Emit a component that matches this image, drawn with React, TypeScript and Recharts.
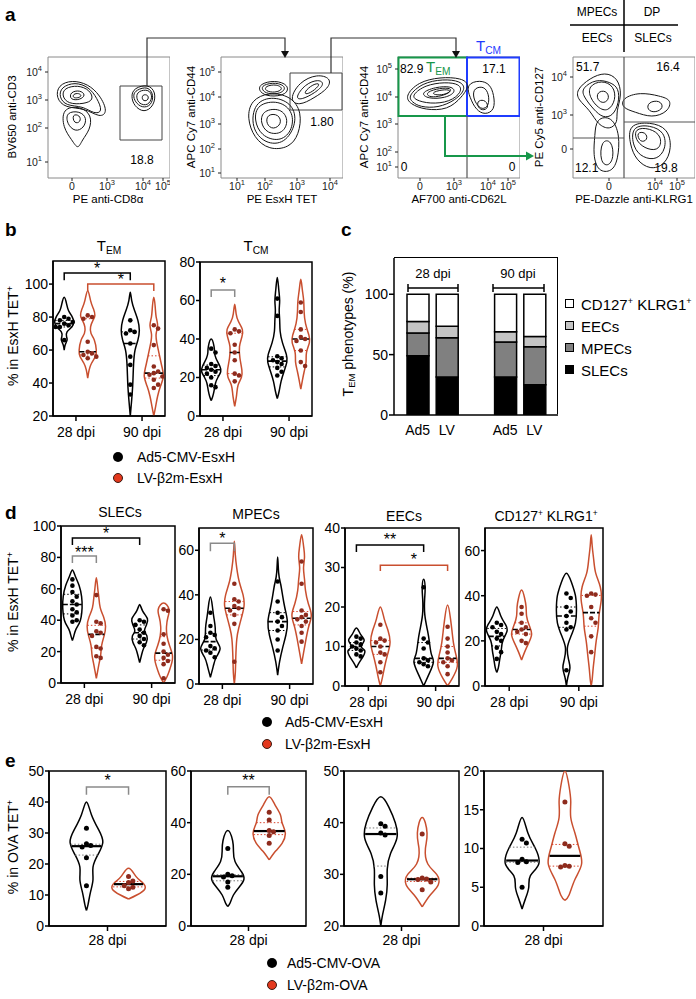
import React from 'react'
import {
  ComposedChart, Line, Scatter, XAxis, YAxis, ReferenceLine, ReferenceArea,
  ReferenceDot, BarChart, Bar,
} from 'recharts'

const FONT = '"Liberation Sans", Arial, Helvetica, sans-serif'
const RED = '#c94f2f'
const RED_DOT = '#8e2b1d'
const GREEN = '#17974a'
const BLUE = '#1f3cff'

// ---- panel a: flow contour rings (axis units of each plot, 0-122 x 0-121) ----
const cd8Rings = [
  [[10, 93], [24, 98], [40, 94], [52, 83], [60, 66], [52, 60], [37, 70], [17, 70], [8, 80]],
  [[13, 91], [27, 96], [41, 91], [49, 80], [55, 66], [46, 64], [35, 72], [18, 72], [11, 81]],
  [[16, 90], [30, 93], [42, 88], [46, 78], [36, 74], [20, 74], [14, 82]],
  [[22, 86], [32, 88], [38, 83], [32, 78], [22, 78]],
  [[25, 84], [31, 85], [34, 82], [30, 80], [25, 80]],
  [[14, 70], [32, 72], [44, 63], [42, 48], [34, 38], [30, 28], [24, 38], [15, 50]],
  [[18, 66], [32, 67], [39, 60], [36, 50], [27, 46], [19, 54]],
  [[24, 64], [32, 63], [33, 56], [26, 54]],
  [[86, 90], [100, 94], [108, 86], [106, 72], [96, 65], [86, 72], [83, 82]],
  [[88, 88], [100, 92], [106, 83], [103, 72], [94, 70], [87, 76], [85, 83]],
  [[90, 87], [101, 89], [105, 81], [100, 72], [91, 74], [88, 81]],
  [[94, 84], [101, 83], [100, 77], [94, 77]],
]
const tetRings = [
  [[30, 78], [48, 86], [70, 82], [81, 66], [78, 43], [68, 30], [48, 28], [33, 40], [26, 60]],
  [[33, 76], [53, 82], [72, 74], [76, 55], [64, 34], [44, 34], [30, 50]],
  [[36, 74], [58, 78], [73, 66], [71, 46], [58, 36], [40, 42], [33, 58]],
  [[42, 68], [60, 70], [68, 58], [62, 44], [46, 44], [39, 56]],
  [[46, 64], [58, 64], [61, 54], [52, 48], [45, 54]],
  [[38, 94], [54, 98], [68, 93], [66, 83], [48, 81], [38, 86]],
  [[41, 93], [55, 96], [66, 91], [60, 84], [46, 84], [41, 88]],
  [[44, 92], [56, 94], [63, 89], [54, 85], [44, 87]],
  [[68, 78], [78, 96], [96, 104], [110, 100], [108, 90], [93, 80], [78, 72]],
  [[74, 80], [84, 94], [98, 99], [104, 94], [94, 85], [80, 78]],
  [[83, 86], [92, 94], [100, 95], [94, 88], [85, 83]],
]
const cd62Rings = [
  [[7, 82], [20, 96], [42, 101], [64, 100], [72, 93], [64, 81], [50, 68], [27, 68], [12, 74]],
  [[10, 82], [24, 95], [45, 99], [63, 97], [68, 89], [58, 78], [40, 70], [22, 71], [14, 76]],
  [[14, 83], [27, 93], [47, 96], [62, 94], [64, 86], [52, 76], [32, 74], [17, 78]],
  [[22, 85], [37, 91], [54, 92], [58, 86], [48, 80], [30, 79]],
  [[28, 86], [42, 90], [54, 90], [52, 85], [40, 81], [30, 81]],
  [[34, 86], [48, 89], [54, 87], [46, 83], [36, 83]],
  [[68, 94], [82, 98], [92, 94], [96, 83], [97, 68], [87, 63], [78, 68], [72, 80]],
  [[76, 90], [86, 92], [91, 84], [91, 72], [84, 68], [78, 74], [75, 82]],
  [[80, 78], [88, 78], [91, 70], [84, 67], [79, 72]],
]
const klrgRings = [
  [[3, 88], [17, 100], [32, 106], [45, 100], [49, 83], [43, 66], [45, 56], [37, 48], [25, 53], [17, 68], [5, 78]],
  [[9, 90], [23, 99], [37, 96], [46, 90], [46, 75], [40, 62], [30, 60], [21, 68], [10, 82]],
  [[15, 92], [29, 98], [41, 92], [43, 78], [35, 66], [25, 70], [17, 80]],
  [[24, 86], [33, 88], [37, 80], [31, 74], [24, 78]],
  [[23, 60], [39, 62], [47, 43], [45, 18], [39, 6], [25, 6], [20, 23], [22, 43]],
  [[28, 38], [39, 38], [41, 20], [35, 11], [27, 16]],
  [[49, 80], [67, 86], [87, 82], [99, 78], [95, 66], [79, 60], [62, 66], [49, 70]],
  [[75, 76], [87, 78], [91, 70], [82, 65], [74, 68]],
  [[55, 54], [77, 56], [95, 50], [99, 30], [92, 13], [77, 8], [63, 18], [57, 33]],
  [[58, 52], [77, 53], [92, 46], [93, 29], [84, 18], [70, 20], [60, 30]],
  [[61, 50], [77, 50], [89, 42], [87, 28], [75, 28], [63, 36]],
  [[63, 46], [73, 46], [75, 38], [67, 35]],
]

// tick positions / labels of the flow axes
const cd8XTicks = [[24, '0'], [59, '10^3'], [95, '10^4'], [115, '10^5']]
const cd8YTicks = [[16, '10^1'], [50, '10^2'], [78, '10^3'], [106, '10^4']]
const tetXTicks = [[16, '10^1'], [44, '10^2'], [76, '10^3'], [109, '10^4']]
const tetYTicks = [[5, '10^1'], [29, '10^2'], [54, '10^3'], [81, '10^4'], [106, '10^5']]
const cd62XTicks = [[22, '0'], [56, '10^3'], [90, '10^4'], [110, '10^5']]
const cd62YTicks = [[11, '10^1'], [26, '10^2'], [54, '10^3'], [81, '10^4'], [109, '10^5']]
const klrgXTicks = [[36, '0'], [82, '10^4'], [104, '10^5']]
const klrgYTicks = [[29, '0'], [63, '10^3'], [101, '10^4']]

// ---- panel b ----
const temShapes = [
  [[60, 0], [63, 0.1], [66, 0.3], [68, 0.25], [71, 0.3], [74, 0.8], [77, 1.0], [80, 0.85], [84, 0.45], [88, 0.25], [92, 0]],
  [[43, 0], [48, 0.15], [52, 0.4], [56, 0.8], [60, 0.9], [66, 0.7], [70, 0.35], [74, 0.3], [78, 0.55], [81, 0.75], [85, 0.6], [90, 0.3], [96, 0]],
  [[20, 0], [30, 0.15], [38, 0.25], [45, 0.3], [52, 0.35], [60, 0.5], [66, 0.8], [72, 0.95], [78, 0.8], [84, 0.45], [90, 0.15], [95, 0]],
  [[20, 0], [26, 0.2], [32, 0.4], [38, 0.7], [44, 1.0], [50, 0.85], [58, 0.55], [65, 0.3], [70, 0.25], [75, 0.4], [80, 0.25], [86, 0.15], [92, 0]],
]
const temDots = [
  [80, 79, 78, 77, 76, 75, 74, 74, 66],
  [81, 80, 79, 65, 59, 58, 57, 56, 55],
  [78, 72, 71, 70, 64, 56, 51, 39, 33],
  [75, 73, 63, 50, 47, 46, 45, 44, 42, 39, 37],
]
const tcmShapes = [
  [[8, 0], [10, 0.15], [13, 0.3], [17, 0.45], [20, 0.7], [23, 1.0], [26, 0.9], [30, 0.5], [33, 0.35], [36, 0.3], [40, 0]],
  [[5, 0], [11, 0.2], [16, 0.35], [20, 0.7], [24, 0.75], [30, 0.55], [36, 0.5], [41, 0.75], [45, 0.8], [49, 0.4], [53, 0.15], [58, 0]],
  [[9, 0], [13, 0.2], [18, 0.4], [23, 0.7], [28, 1.0], [32, 0.95], [38, 0.55], [44, 0.3], [50, 0.25], [55, 0.2], [60, 0.25], [66, 0.15], [72, 0]],
  [[14, 0], [18, 0.15], [23, 0.35], [28, 0.55], [33, 0.6], [38, 0.9], [42, 0.85], [48, 0.5], [54, 0.35], [60, 0.3], [66, 0.15], [71, 0]],
]
const tcmDots = [
  [35, 33, 27, 26, 25, 24, 23, 22, 20, 16, 15],
  [45, 44, 43, 37, 33, 29, 22, 21, 18],
  [61, 52, 31, 30, 29, 28, 27, 25, 23, 21],
  [59, 54, 45, 41, 40, 39, 34, 28, 26],
]

// ---- panel c ----
const phenoCats = ['a28', 'l28', 'gap', 'a90', 'l90']
const phenoLabels = ['Ad5', 'LV', '', 'Ad5', 'LV']
const slecPct = [49, 31.5, 31.5, 25]
const mpecPct = [19, 32.5, 29, 31.5]
const eecPct = [9.5, 9.5, 8.5, 8.5]
const dpPct = [22.5, 26.5, 31, 35]

// ---- panel d ----
const slecShapes = [
  [[27, 0], [30, 0.15], [34, 0.35], [38, 0.7], [42, 0.9], [48, 1.0], [55, 0.95], [62, 0.7], [68, 0.3], [72, 0]],
  [[3, 0], [8, 0.15], [13, 0.3], [18, 0.45], [24, 0.55], [30, 0.8], [36, 0.95], [42, 0.75], [48, 0.4], [55, 0.25], [60, 0.15], [67, 0]],
  [[13, 0], [18, 0.2], [22, 0.4], [26, 0.7], [30, 0.75], [33, 0.5], [37, 0.7], [41, 0.8], [46, 0.3], [50, 0]],
  [[0, 0], [4, 0.35], [8, 0.6], [13, 0.85], [18, 0.9], [24, 0.6], [30, 0.35], [36, 0.3], [42, 0.45], [47, 0.55], [51, 0]],
]
const slecDots = [
  [66, 62, 58, 55, 52, 50, 47, 45, 43, 40, 39],
  [56, 39, 38, 33, 32, 30, 23, 22, 17, 16],
  [40, 39, 37, 34, 32, 30, 28, 26, 24],
  [47, 46, 31, 25, 20, 18, 16, 14, 12, 3],
]
const mpecShapes = [
  [[3, 0], [8, 0.3], [12, 0.6], [16, 1.0], [20, 0.6], [25, 0.5], [30, 0.35], [35, 0.2], [39, 0]],
  [[0, 0], [5, 0.1], [12, 0.15], [20, 0.25], [25, 0.45], [30, 0.75], [35, 1.0], [40, 0.9], [46, 0.5], [52, 0.25], [58, 0.1], [64, 0]],
  [[4, 0], [10, 0.2], [16, 0.5], [22, 0.85], [28, 1.0], [34, 0.75], [40, 0.5], [45, 0.3], [50, 0.1], [57, 0]],
  [[9, 0], [14, 0.2], [20, 0.45], [26, 0.75], [31, 1.0], [36, 0.7], [42, 0.4], [47, 0.3], [52, 0.2], [57, 0.3], [62, 0.2], [67, 0]],
]
const mpecDots = [
  [32, 26, 23, 22, 21, 17, 16, 15, 14, 12],
  [45, 38, 37, 35, 34, 33, 31, 27, 10],
  [46, 37, 32, 30, 28, 26, 24, 20, 15],
  [55, 45, 33, 31, 30, 29, 28, 26, 23, 19],
]
const eecShapes = [
  [[4.6, 0], [6, 0.3], [7.5, 0.7], [9, 0.85], [10, 0.5], [11.5, 0.8], [13, 0.45], [14.7, 0]],
  [[0, 0], [2, 0.2], [5, 0.45], [8, 0.75], [11, 1.0], [14, 0.8], [17, 0.4], [20, 0]],
  [[0, 0], [3, 0.55], [6, 1.0], [8, 0.8], [11, 0.6], [14, 0.4], [18, 0.12], [22, 0.1], [25, 0.15], [27, 0]],
  [[0, 0], [2, 0.5], [5, 1.0], [8, 0.85], [11, 0.6], [14, 0.45], [17, 0.3], [20.5, 0]],
]
const eecDots = [
  [12.5, 12, 11, 10.5, 10, 9.5, 9, 8, 7.5],
  [15.5, 12, 11.5, 11, 10, 8.5, 8, 6, 3.5],
  [25, 12, 11, 9.5, 7, 6.5, 6, 5.5, 5],
  [15, 12, 10, 8.5, 7, 6.5, 6, 5, 3],
]
const dpShapes = [
  [[6, 0], [8, 0.15], [12, 0.3], [16, 0.45], [20, 0.6], [24, 1.0], [27, 0.9], [31, 0.4], [35, 0]],
  [[11.5, 0], [15, 0.3], [19, 0.7], [23, 1.0], [27, 0.75], [31, 0.5], [35, 0.45], [39, 0.3], [42.5, 0]],
  [[0, 0], [4, 0.15], [8, 0.35], [12, 0.2], [17, 0.1], [22, 0.45], [28, 0.9], [34, 1.0], [40, 0.9], [46, 0.5], [50, 0]],
  [[0, 0], [3, 0.1], [8, 0.2], [14, 0.35], [20, 0.5], [26, 0.7], [32, 0.8], [38, 1.0], [44, 0.9], [50, 0.45], [56, 0.25], [62, 0.1], [67, 0]],
]
const dpDots = [
  [28, 27, 26, 24, 23, 21, 20, 17, 15, 12],
  [35, 32, 28, 26, 25, 24, 23, 20, 19],
  [41, 39, 35, 33, 31, 28, 26, 25, 7],
  [41, 40.5, 40, 35, 30, 28, 22, 15],
]

// ---- panel e (OVA, 28 dpi only) ----
const ovaSlecShapes = [
  [[5, 0], [7, 0.1], [11, 0.25], [15, 0.4], [19, 0.4], [23, 0.7], [27, 1.0], [31, 0.75], [36, 0.3], [40, 0]],
  [[8.7, 0], [10, 0.5], [12, 1.0], [14, 0.85], [16, 0.45], [18.6, 0]],
]
const ovaSlecDots = [[31.5, 26.5, 26, 25.5, 22, 13], [16, 14.5, 14, 13, 12.5, 12]]
const ovaMpecShapes = [
  [[7.5, 0], [9, 0.15], [12, 0.35], [15, 0.7], [18, 1.0], [21, 0.85], [25, 0.45], [29, 0.35], [33, 0.3], [37, 0]],
  [[25.6, 0], [29, 0.4], [32, 0.8], [36, 1.0], [40, 0.8], [43, 0.7], [47, 0.35], [50, 0]],
]
const ovaMpecDots = [[30, 20, 19.5, 19, 17, 15], [44, 41, 37, 36.5, 35, 32]]
const ovaEecShapes = [
  [[20, 0], [22, 0.1], [25, 0.3], [28, 0.4], [31, 0.4], [34, 0.6], [37, 1.0], [40, 0.9], [43, 0.5], [45, 0]],
  [[23.7, 0], [26, 0.5], [28, 1.0], [30, 0.9], [32, 0.35], [35, 0.2], [38, 0.3], [41, 0]],
]
const ovaEecDots = [[39.8, 39.3, 38, 37.6, 29.6, 26.4], [37.8, 29.3, 29.1, 29, 28.5, 27]]
const ovaDpShapes = [
  [[2.2, 0], [3.5, 0.2], [5, 0.4], [6.5, 0.5], [8, 1.0], [10, 0.8], [12, 0.35], [14, 0]],
  [[3.3, 0], [4, 0.25], [6, 0.6], [8, 1.0], [10, 0.85], [12, 0.6], [14, 0.35], [16, 0.35], [18, 0.25], [20, 0]],
]
const ovaDpDots = [[11.2, 10.7, 8.6, 8.3, 8.2, 5], [16, 10.6, 10.3, 7.8, 7.7, 7.6]]

const POS4 = [0.1, 0.31, 0.69, 0.9]
const POS2 = [0.32, 0.68]
const DPI_TICKS = [0.205, 0.795]

// ---------- helpers ----------
function outline(prof: number[][], c: number, half: number) {
  const s = [...prof].sort((a, b) => a[0] - b[0])
  const left = s.map(([y, w]) => ({ x: c - w * half, y }))
  const right = s.slice(0, -1).reverse().map(([y, w]) => ({ x: c + w * half, y }))
  return [...left, ...right]
}
function widthAt(prof: number[][], y: number) {
  const s = [...prof].sort((a, b) => a[0] - b[0])
  for (let i = 0; i < s.length - 1; i++) {
    if (y >= s[i][0] && y <= s[i + 1][0]) {
      const t = (y - s[i][0]) / (s[i + 1][0] - s[i][0] || 1)
      return s[i][1] + (s[i + 1][1] - s[i][1]) * t
    }
  }
  return 0
}
function quantile(sorted: number[], p: number) {
  const idx = (sorted.length - 1) * p
  const lo = Math.floor(idx), hi = Math.ceil(idx)
  return sorted[lo] + (sorted[hi] - sorted[lo]) * (idx - lo)
}
function swarm(vals: number[], c: number, dx: number, thr: number) {
  const placed: { y: number; k: number }[] = []
  return [...vals].sort((a, b) => b - a).map((v) => {
    let k = 0
    for (const cand of [0, 1, -1, 2, -2, 3, -3]) {
      if (!placed.some((q) => Math.abs(q.y - v) < thr && q.k === cand)) { k = cand; break }
    }
    placed.push({ y: v, k })
    return { x: c + k * dx, y: v }
  })
}

function Txt({ x, y, children, size = 14, anchor = 'middle', rot = 0, color = '#000', weight = 400 }: any) {
  const tx = anchor === 'middle' ? '-50%' : anchor === 'end' ? '-100%' : '0'
  return (
    <div style={{
      position: 'absolute', left: x, top: y, transform: `translate(${tx},-50%) rotate(${rot}deg)`,
      fontSize: size, color, fontWeight: weight, whiteSpace: 'nowrap', lineHeight: 1, fontFamily: FONT,
    }}>{children}</div>
  )
}

function PowLabel({ x, y, lab, anchor }: any) {
  const m = /^10\^(\d)$/.exec(lab)
  return (
    <text x={x} y={y} textAnchor={anchor} fontSize={10.5} fill="#222" fontFamily={FONT}>
      {m ? <>10<tspan dy={-5} fontSize={7.5}>{m[1]}</tspan></> : lab}
    </text>
  )
}

function FlowPlot({ box, xt, yt, rings, areas = [], segs = [] }: any) {
  const [bx, by] = box
  const W = 122, H = 121, ML = 30, MB = 20, MT = 8
  const lab = (arr: any[], v: number) => (arr.find((t) => t[0] === v) || [0, ''])[1]
  return (
    <div style={{ position: 'absolute', left: bx - ML, top: by - MT }}>
      <ComposedChart width={W + ML} height={H + MB + MT} margin={{ top: MT, right: 0, bottom: 0, left: 0 }}>
        <XAxis type="number" dataKey="x" domain={[0, W]} ticks={xt.map((t: any) => t[0])} interval={0}
          height={MB} axisLine={false} tickSize={3} tickLine={{ stroke: '#222' }} allowDataOverflow
          tick={(pp: any) => <PowLabel x={pp.x} y={pp.y + 7} lab={lab(xt, pp.payload.value)} anchor="middle" />} />
        <YAxis type="number" dataKey="y" domain={[0, H]} ticks={yt.map((t: any) => t[0])} interval={0}
          width={ML} axisLine={false} tickSize={3} tickLine={{ stroke: '#222' }} allowDataOverflow
          tick={(pp: any) => <PowLabel x={pp.x - 1} y={pp.y + 4} lab={lab(yt, pp.payload.value)} anchor="end" />} />
        <ReferenceArea x1={0} x2={W} y1={0} y2={H} fill="none" stroke="#8a8a8a" strokeWidth={1} ifOverflow="visible" />
        {rings.map((r: number[][], i: number) => (
          <Line key={'r' + i} data={r.map(([x, y]) => ({ x, y }))} dataKey="y" type="basisClosed"
            stroke="#151515" strokeWidth={1} dot={false} activeDot={false} isAnimationActive={false} />
        ))}
        {areas.map((a: any, i: number) => (
          <ReferenceArea key={'a' + i} x1={a.x1} x2={a.x2} y1={a.y1} y2={a.y2} fill="none"
            stroke={a.color} strokeWidth={a.w} ifOverflow="visible" />
        ))}
        {segs.map((s: any, i: number) => (
          <ReferenceLine key={'s' + i} segment={[{ x: s[0], y: s[1] }, { x: s[2], y: s[3] }]}
            stroke="#555" strokeWidth={1.2} ifOverflow="visible" />
        ))}
      </ComposedChart>
    </div>
  )
}

function ViolinPanel({ box, domain, yTicks, shapes, dots, pos, half, xTicks, xLabels, brackets = [], ova = false }: any) {
  const [bx, by, bw, bh] = box
  const ML = 46, MT = 10, MR = 2, MB = 32
  const thr = (5 * (domain[1] - domain[0])) / bh
  const dx = 4.3 / bw
  const stats: any[] = []
  dots.forEach((d: number[], i: number) => {
    const s = [...d].sort((a, b) => a - b)
    const lv = i % 2 === 1
    const lines = [
      { v: quantile(s, 0.25), kind: 'q' }, { v: quantile(s, 0.75), kind: 'q' }, { v: quantile(s, 0.5), kind: 'm' },
    ]
    lines.forEach((l, j) => {
      const hw = widthAt(shapes[i], l.v) * half
      const med = l.kind === 'm'
      stats.push(
        <ReferenceLine key={`st${i}-${j}`} segment={[{ x: pos[i] - hw, y: l.v }, { x: pos[i] + hw, y: l.v }]}
          stroke={med ? '#000' : lv ? '#d8432c' : ova ? '#777' : '#000'}
          strokeWidth={med ? (ova ? 2.2 : 1.6) : 1}
          strokeDasharray={med ? (ova ? undefined : '5 2') : '1.5 2'} ifOverflow="visible" />,
      )
    })
  })
  return (
    <div style={{ position: 'absolute', left: bx - ML, top: by - MT }}>
      <ComposedChart width={bw + ML + MR} height={bh + MT + MB} margin={{ top: MT, right: MR, bottom: 0, left: 0 }}>
        <XAxis type="number" dataKey="x" domain={[0, 1]} ticks={xTicks} interval={0} allowDataOverflow
          tickFormatter={(v: number) => xLabels[xTicks.indexOf(v)] ?? ''} height={MB}
          axisLine={{ stroke: '#000', strokeWidth: 1.5 }} tickLine={{ stroke: '#000', strokeWidth: 1.5 }}
          tickSize={5} tickMargin={ova ? 4 : 6} tick={{ fill: '#000', fontSize: 14 }} />
        <YAxis type="number" dataKey="y" domain={domain} ticks={yTicks} interval={0} allowDataOverflow width={ML}
          axisLine={{ stroke: '#000', strokeWidth: 1.5 }} tickLine={{ stroke: '#000', strokeWidth: 1.5 }}
          tickSize={4} tickMargin={1} tick={{ fill: '#000', fontSize: 14 }} />
        <ReferenceArea x1={0} x2={1} y1={domain[0]} y2={domain[1]} fill="none" stroke="#000" strokeWidth={1.5} ifOverflow="visible" />
        {shapes.map((s: number[][], i: number) => (
          <Line key={'v' + i} data={outline(s, pos[i], half)} dataKey="y" type="natural"
            stroke={i % 2 ? RED : '#000'} strokeWidth={1.5} dot={false} activeDot={false} isAnimationActive={false} />
        ))}
        {stats}
        {dots.map((d: number[], i: number) => (
          <Scatter key={'d' + i} data={swarm(d, pos[i], dx, thr)} isAnimationActive={false}
            shape={(pp: any) => <circle cx={pp.cx} cy={pp.cy} r={ova ? 2.5 : 2.3} fill={i % 2 ? RED_DOT : '#000'} />} />
        ))}
        {brackets.map((b: any, i: number) => (
          <Line key={'b' + i} data={[{ x: pos[b.a], y: b.tip }, { x: pos[b.a], y: b.y }, { x: pos[b.b], y: b.y }, { x: pos[b.b], y: b.tip }]}
            dataKey="y" type="linear" stroke={b.color} strokeWidth={1.5} dot={false} activeDot={false} isAnimationActive={false} />
        ))}
        {brackets.map((b: any, i: number) => (
          <ReferenceDot key={'s' + i} x={(pos[b.a] + pos[b.b]) / 2} y={b.sy} r={0} ifOverflow="visible"
            shape={(pp: any) => <text x={pp.cx} y={pp.cy + 8} textAnchor="middle" fontSize={16} fill="#000">{b.star}</text>} />
        ))}
      </ComposedChart>
    </div>
  )
}

function PhenoChart() {
  const rows: any[] = []
  let k = 0
  phenoCats.forEach((c) => {
    if (c === 'gap') { rows.push({ key: c }); return }
    rows.push({ key: c, slec: slecPct[k], mpec: mpecPct[k], eec: eecPct[k], dp: dpPct[k] })
    k++
  })
  const ML = 40, MB = 26
  const bars = [['slec', '#000'], ['mpec', '#808080'], ['eec', '#c4c4c4'], ['dp', '#fff']]
  return (
    <div style={{ position: 'absolute', left: 394 - ML, top: 258 }}>
      <BarChart width={164 + ML + 2} height={157 + MB} data={rows} margin={{ top: 0, right: 2, bottom: 0, left: 0 }} barSize={22}>
        <XAxis dataKey="key" type="category" padding={{ left: 9, right: 9 }} height={MB} tickLine={false}
          tickFormatter={(v: string) => phenoLabels[phenoCats.indexOf(v)]} interval={0}
          axisLine={{ stroke: '#000', strokeWidth: 1.5 }} tick={{ fill: '#000', fontSize: 14 }} tickMargin={4} />
        <YAxis type="number" domain={[0, 130]} ticks={[0, 50, 100]} width={ML} allowDataOverflow
          axisLine={{ stroke: '#000', strokeWidth: 1.5 }} tickLine={{ stroke: '#000', strokeWidth: 1.5 }}
          tickSize={5} tickMargin={1} tick={{ fill: '#000', fontSize: 14 }} />
        {bars.map(([key, fill]) => (
          <Bar key={key} dataKey={key} stackId="p" fill={fill} stroke="#000" strokeWidth={1.5} isAnimationActive={false} />
        ))}
      </BarChart>
    </div>
  )
}

const Sub = ({ t, s }: any) => <span>{t}<sub style={{ fontSize: '0.68em', verticalAlign: '-0.25em' }}>{s}</sub></span>
const LegendDot = ({ x, y, red }: any) => (
  <div style={{
    position: 'absolute', left: x - 5, top: y - 5, width: 10, height: 10, borderRadius: 5,
    background: red ? '#e3381d' : '#000', boxSizing: 'border-box', border: red ? '1px solid #3a1a12' : 'none',
  }} />
)

export default function App() {
  const HB = 0.085
  const HE = 0.14
  return (
    <div style={{ position: 'relative', width: 696, height: 999, background: '#fff', fontFamily: FONT, overflow: 'hidden' }}>
      <style>{'body{margin:0}'}</style>

      {/* ---- panel a ---- */}
      <FlowPlot box={[48, 57]} xt={cd8XTicks} yt={cd8YTicks} rings={cd8Rings}
        areas={[{ x1: 72, x2: 114, y1: 38, y2: 92, color: '#444', w: 1 }]} />
      <FlowPlot box={[221, 57]} xt={tetXTicks} yt={tetYTicks} rings={tetRings}
        areas={[{ x1: 69, x2: 121, y1: 68, y2: 105, color: '#444', w: 1 }]} />
      <FlowPlot box={[398, 57]} xt={cd62XTicks} yt={cd62YTicks} rings={cd62Rings}
        areas={[{ x1: 0.5, x2: 69, y1: 62, y2: 120.5, color: GREEN, w: 2 }, { x1: 69, x2: 121.5, y1: 62, y2: 120.5, color: BLUE, w: 2 }]}
        segs={[[69, 0, 69, 62]]} />
      <FlowPlot box={[573, 57]} xt={klrgXTicks} yt={klrgYTicks} rings={klrgRings}
        segs={[[51, 0, 51, 121], [0, 40, 51, 40], [51, 56, 122, 56]]} />

      <svg width={696} height={999} style={{ position: 'absolute', left: 0, top: 0, pointerEvents: 'none' }}>
        <path d="M147 86 V38 H285 V52" fill="none" stroke="#333" strokeWidth={1.2} />
        <polygon points="281,51 289,51 285,58" fill="#111" />
        <path d="M331 73 V38 H456 V52" fill="none" stroke="#333" strokeWidth={1.2} />
        <polygon points="452,51 460,51 456,58" fill="#111" />
        <path d="M445 117 V156 H527" fill="none" stroke={GREEN} strokeWidth={2} />
        <polygon points="526,151.5 526,160.5 534,156" fill={GREEN} />
        <path d="M624 0 V52 M570 25 H678" fill="none" stroke="#000" strokeWidth={1.5} />
        <path d="M408 288 H458 M408 284 V292 M458 284 V292 M493 288 H544 M493 284 V292 M544 284 V292" fill="none" stroke="#000" strokeWidth={1.5} />
      </svg>

      <Txt x={5} y={14} size={19} anchor="start" weight={700}>a</Txt>
      <Txt x={597} y={12} size={12}>MPECs</Txt>
      <Txt x={652} y={12} size={12}>DP</Txt>
      <Txt x={597} y={38} size={12}>EECs</Txt>
      <Txt x={653} y={38} size={12}>SLECs</Txt>
      <Txt x={142} y={160} size={12}>18.8</Txt>
      <Txt x={322} y={122} size={12}>1.80</Txt>
      <Txt x={400} y={69} size={12} anchor="start">82.9</Txt>
      <Txt x={426} y={68} size={15} anchor="start" color={GREEN}><Sub t="T" s="EM" /></Txt>
      <Txt x={494} y={69} size={12}>17.1</Txt>
      <Txt x={476} y={47} size={15} anchor="start" color={BLUE}><Sub t="T" s="CM" /></Txt>
      <Txt x={404} y={167} size={12}>0</Txt>
      <Txt x={512} y={167} size={12}>0</Txt>
      <Txt x={576} y={67} size={12} anchor="start">51.7</Txt>
      <Txt x={668} y={67} size={12}>16.4</Txt>
      <Txt x={575} y={168} size={12} anchor="start">12.1</Txt>
      <Txt x={666} y={168} size={12}>19.8</Txt>
      <Txt x={108} y={200} size={11.5}>PE anti-CD8α</Txt>
      <Txt x={282} y={200} size={11.5}>PE EsxH TET</Txt>
      <Txt x={459} y={200} size={11.5}>AF700 anti-CD62L</Txt>
      <Txt x={634} y={200} size={11.5}>PE-Dazzle anti-KLRG1</Txt>
      <Txt x={13} y={117} size={11.5} rot={-90}>BV650 anti-CD3</Txt>
      <Txt x={192} y={117} size={11.5} rot={-90}>APC Cy7 anti-CD44</Txt>
      <Txt x={365} y={117} size={11.5} rot={-90}>APC Cy7 anti-CD44</Txt>
      <Txt x={540} y={117} size={11.5} rot={-90}>PE Cy5 anti-CD127</Txt>

      {/* ---- panel b ---- */}
      <Txt x={5} y={229} size={19} anchor="start" weight={700}>b</Txt>
      <Txt x={109} y={247} size={15}><Sub t="T" s="EM" /></Txt>
      <Txt x={256} y={247} size={15}><Sub t="T" s="CM" /></Txt>
      <Txt x={13} y={336} size={14} rot={-90}>% in EsxH TET<sup style={{ fontSize: '0.65em' }}>+</sup></Txt>
      <ViolinPanel box={[53, 261, 112, 155]} domain={[20, 114]} yTicks={[20, 40, 60, 80, 100]}
        shapes={temShapes} dots={temDots} pos={POS4} half={HB} xTicks={DPI_TICKS} xLabels={['28 dpi', '90 dpi']}
        brackets={[
          { a: 0, b: 2, y: 106.7, tip: 102.4, sy: 111.2, star: '*', color: '#000' },
          { a: 1, b: 3, y: 100, tip: 95.8, sy: 104.6, star: '*', color: RED },
        ]} />
      <ViolinPanel box={[200, 262, 112, 154]} domain={[0, 80]} yTicks={[0, 20, 40, 60, 80]}
        shapes={tcmShapes} dots={tcmDots} pos={POS4} half={HB} xTicks={DPI_TICKS} xLabels={['28 dpi', '90 dpi']}
        brackets={[{ a: 0, b: 1, y: 65.5, tip: 61.8, sy: 70, star: '*', color: '#8a8a8a' }]} />
      <LegendDot x={118} y={457} />
      <Txt x={137} y={457} size={14} anchor="start">Ad5-CMV-EsxH</Txt>
      <LegendDot x={118} y={478} red />
      <Txt x={137} y={478} size={14} anchor="start">LV-β2m-EsxH</Txt>

      {/* ---- panel c ---- */}
      <Txt x={341} y={229} size={19} anchor="start" weight={700}>c</Txt>
      <PhenoChart />
      <div style={{ position: 'absolute', left: 394, top: 257.25, width: 164, height: 157, borderTop: '1.5px solid #000', borderRight: '1.5px solid #000', boxSizing: 'border-box' }} />
      <Txt x={433} y={273} size={13}>28 dpi</Txt>
      <Txt x={518} y={273} size={13}>90 dpi</Txt>
      <Txt x={349} y={334} size={14} rot={-90}><Sub t="T" s="EM" /> phenotypes (%)</Txt>
      {[['CD127', 'KLRG1', '#fff'], ['EECs', '', '#c4c4c4'], ['MPECs', '', '#808080'], ['SLECs', '', '#000']].map((r, i) => (
        <React.Fragment key={i}>
          <div style={{ position: 'absolute', left: 565, top: 299 + i * 22, width: 9, height: 9, background: r[2], border: '1.2px solid #000', boxSizing: 'border-box' }} />
          <Txt x={581} y={304 + i * 22} size={15} anchor="start">
            {r[1] ? <>CD127<sup style={{ fontSize: '0.6em' }}>+</sup> KLRG1<sup style={{ fontSize: '0.6em' }}>+</sup></> : r[0]}
          </Txt>
        </React.Fragment>
      ))}

      {/* ---- panel d ---- */}
      <Txt x={5} y={512} size={19} anchor="start" weight={700}>d</Txt>
      <Txt x={120} y={512} size={14}>SLECs</Txt>
      <Txt x={256} y={514} size={14}>MPECs</Txt>
      <Txt x={404} y={516} size={14}>EECs</Txt>
      <Txt x={546} y={516} size={14}>CD127<sup style={{ fontSize: '0.6em' }}>+</sup> KLRG1<sup style={{ fontSize: '0.6em' }}>+</sup></Txt>
      <Txt x={13} y={602} size={14} rot={-90}>% in EsxH TET<sup style={{ fontSize: '0.65em' }}>+</sup></Txt>
      <ViolinPanel box={[61, 526, 114, 157]} domain={[0, 100]} yTicks={[0, 20, 40, 60, 80, 100]}
        shapes={slecShapes} dots={slecDots} pos={POS4} half={HB} xTicks={DPI_TICKS} xLabels={['28 dpi', '90 dpi']}
        brackets={[
          { a: 0, b: 2, y: 92.4, tip: 87.9, sy: 96.5, star: '*', color: '#000' },
          { a: 0, b: 1, y: 80.9, tip: 76.4, sy: 85, star: '***', color: '#8a8a8a' },
        ]} />
      <ViolinPanel box={[199, 528, 114, 156]} domain={[0, 70]} yTicks={[0, 20, 40, 60]}
        shapes={mpecShapes} dots={mpecDots} pos={POS4} half={HB} xTicks={DPI_TICKS} xLabels={['28 dpi', '90 dpi']}
        brackets={[{ a: 0, b: 1, y: 63.2, tip: 59.6, sy: 66.6, star: '*', color: '#8a8a8a' }]} />
      <ViolinPanel box={[345, 528, 114, 158]} domain={[0, 40]} yTicks={[0, 10, 20, 30, 40]}
        shapes={eecShapes} dots={eecDots} pos={POS4} half={HB} xTicks={DPI_TICKS} xLabels={['28 dpi', '90 dpi']}
        brackets={[
          { a: 0, b: 2, y: 35.7, tip: 33.9, sy: 37.6, star: '**', color: '#000' },
          { a: 1, b: 3, y: 30.6, tip: 29.1, sy: 32.6, star: '*', color: RED },
        ]} />
      <ViolinPanel box={[485, 528, 118, 158]} domain={[0, 70]} yTicks={[0, 20, 40, 60]}
        shapes={dpShapes} dots={dpDots} pos={POS4} half={HB} xTicks={DPI_TICKS} xLabels={['28 dpi', '90 dpi']} />
      <LegendDot x={267} y={722} />
      <Txt x={285} y={722} size={14} anchor="start">Ad5-CMV-EsxH</Txt>
      <LegendDot x={267} y={744} red />
      <Txt x={285} y={744} size={14} anchor="start">LV-β2m-EsxH</Txt>

      {/* ---- panel e ---- */}
      <Txt x={5} y={760} size={19} anchor="start" weight={700}>e</Txt>
      <Txt x={13} y={847} size={14} rot={-90}>% in OVA TET<sup style={{ fontSize: '0.65em' }}>+</sup></Txt>
      <ViolinPanel box={[49, 771, 117, 155]} domain={[0, 50]} yTicks={[0, 10, 20, 30, 40, 50]} ova
        shapes={ovaSlecShapes} dots={ovaSlecDots} pos={POS2} half={HE} xTicks={[0.5]} xLabels={['28 dpi']}
        brackets={[{ a: 0, b: 1, y: 44.8, tip: 42.3, sy: 47.6, star: '*', color: '#8a8a8a' }]} />
      <ViolinPanel box={[191, 771, 115, 155]} domain={[0, 60]} yTicks={[0, 20, 40, 60]} ova
        shapes={ovaMpecShapes} dots={ovaMpecDots} pos={POS2} half={HE} xTicks={[0.5]} xLabels={['28 dpi']}
        brackets={[{ a: 0, b: 1, y: 53.9, tip: 50.8, sy: 57.2, star: '**', color: '#8a8a8a' }]} />
      <ViolinPanel box={[344, 771, 115, 155]} domain={[20, 50]} yTicks={[20, 30, 40, 50]} ova
        shapes={ovaEecShapes} dots={ovaEecDots} pos={POS2} half={HE} xTicks={[0.5]} xLabels={['28 dpi']} />
      <ViolinPanel box={[484, 771, 119, 155]} domain={[0, 20]} yTicks={[0, 5, 10, 15, 20]} ova
        shapes={ovaDpShapes} dots={ovaDpDots} pos={POS2} half={HE} xTicks={[0.5]} xLabels={['28 dpi']} />
      <LegendDot x={272} y={963} />
      <Txt x={287} y={963} size={14} anchor="start">Ad5-CMV-OVA</Txt>
      <LegendDot x={272} y={985} red />
      <Txt x={287} y={985} size={14} anchor="start">LV-β2m-OVA</Txt>
    </div>
  )
}
